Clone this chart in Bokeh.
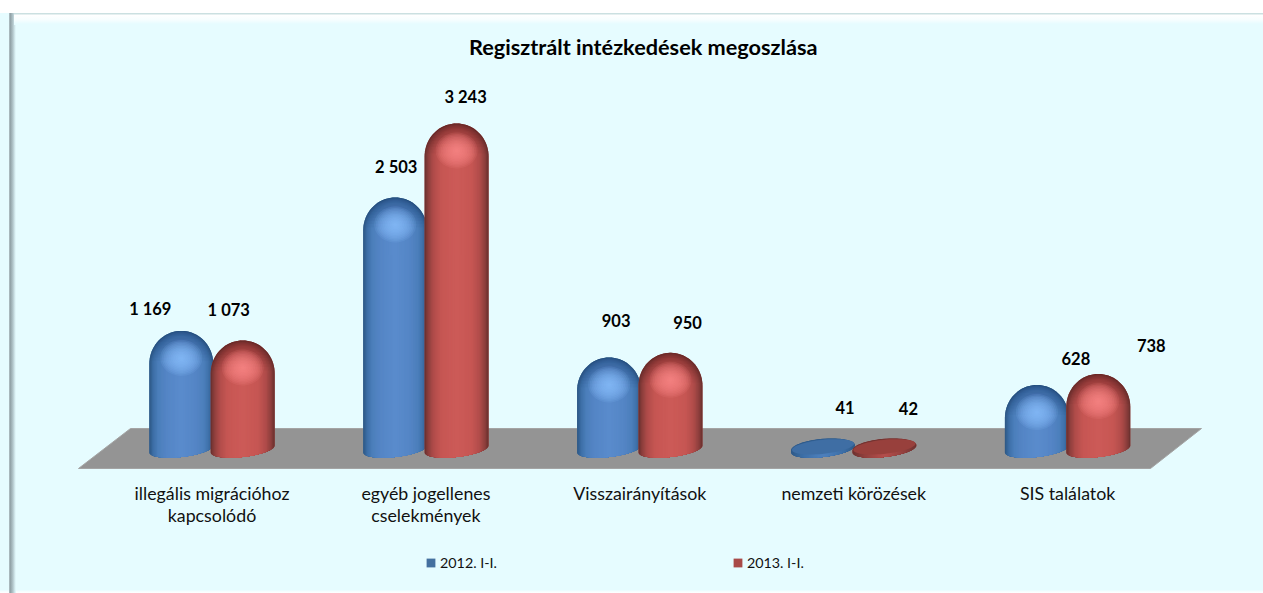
import numpy as np
from bokeh.embed import file_html
from bokeh.resources import INLINE
from bokeh.plotting import figure
from bokeh.models import Range1d, FixedTicker, Legend, LegendItem, ColumnDataSource
from bokeh.core.properties import value

title = "Regisztrált intézkedések megoszlása"
categories = ["illegális migrációhoz\nkapcsolódó", "egyéb jogellenes\ncselekmények",
              "Visszairányítások", "nemzeti körözések", "SIS találatok"]
series_names = ["2012. I-I.", "2013. I-I."]
values_2012 = [1169, 2503, 903, 41, 628]
values_2013 = [1073, 3243, 950, 42, 738]
label_2012 = ["1 169", "2 503", "903", "41", "628"]
label_2013 = ["1 073", "3 243", "950", "42", "738"]

# label nudges from the value position, in pixels
nudge_x_2012 = [-31, 1, 7, 22, 39]
nudge_y_2012 = [-22, -31, -37, -36, -27]
nudge_x_2013 = [-14, 9, 17, 24, 53]
nudge_y_2013 = [-31, -27, -30, -35, -29]

BG = "#e6fcff"
W, H = 1263, 593
F_TOP, F_BOTTOM = 70, 593       # frame in canvas pixels
AXIS_PX = 472                   # canvas y of the category axis
ZERO_PX = 447.3                 # canvas y of value 0
UNITS_PER_PX = 10.0
X0_PX, STEP_PX = 211.5, 213.9   # canvas x of first category, category step

px_x = 1.0 / STEP_PX
HW = 32 * px_x
OFFSET = 30.7 * px_x
DOME = 330.0
MIN_TOP = 90.0
BOTTOM_DEPTH = 80.0
BOTTOM_SHIFT = -12.0
TILT = 35.0


def hex2rgb(h):
    return np.array([int(h[i:i + 2], 16) for i in (1, 3, 5)], float)


def ramp(stops, t):
    xs = [s[0] for s in stops]
    cs = np.array([hex2rgb(s[1]) for s in stops])
    c = [np.interp(t, xs, cs[:, k]) for k in range(3)]
    return "#%02x%02x%02x" % tuple(int(round(v)) for v in c)


BLUE = [(0.0, "#5a8ccd"), (0.5, "#5485c5"), (0.74, "#4b7eba"), (0.9, "#3c6ea6"), (1.0, "#2f5a88")]
RED = [(0.0, "#cd5b58"), (0.5, "#c65653"), (0.74, "#b04c4a"), (0.9, "#8f3f3d"), (1.0, "#6e3230")]
BLUE_HI, RED_HI = "#8cc4ff", "#ff8a88"
BLUE_FACE, RED_FACE = "#3f6ea4", "#98403c"
BLUE_MID, RED_MID = "#44709f", "#a84a48"
BLUE_DARK, RED_DARK = "#264a78", "#6a2422"

bevel = ", ".join([
    "linear-gradient(to bottom, #cbe0e1 0, #cbe0e1 1px, #ffffff 2px, #f6feff 7px, %s 11px) 14px 13px / 100%% 12px no-repeat" % BG,
    "linear-gradient(to right, #c3d2d6 0, #8e9ea3 1px, #9aabb0 2px, #b4c8cd 4px, #d8eef2 6px, %s 7px) 9px 13px / 7px 580px no-repeat" % BG,
    "linear-gradient(to bottom, #ffffff 0, #ffffff 13px, %s 13px, %s 590px, #f2fdff 591px, #ffffff 593px) 0 0 / 100%% 100%% no-repeat" % (BG, BG),
])


def fx(px):
    return (px - X0_PX) / STEP_PX


def fy(py):
    return (ZERO_PX - py) * UNITS_PER_PX


p = figure(width=W, height=H, frame_width=W, frame_height=F_BOTTOM - F_TOP,
           output_backend="svg", toolbar_location=None,
           min_border_left=0, min_border_right=0, min_border_top=F_TOP,
           min_border_bottom=0,
           x_range=Range1d(fx(0), fx(W)),
           y_range=Range1d(fy(F_BOTTOM), fy(F_TOP)),
           background_fill_alpha=0, border_fill_alpha=0, outline_line_color=None,
           styles={"background": bevel})
p.grid.visible = False
p.yaxis.visible = False

p.title.text = title
p.title.text_font = "Lato"
p.title.text_font_size = "21.7px"
p.title.text_font_style = "bold"
p.title.text_color = "#000000"
p.title.align = "left"
p.title.offset = 468.5
p.title.standoff = 22

ax = p.xaxis[0]
ax.fixed_location = fy(AXIS_PX)
ax.ticker = FixedTicker(ticks=list(range(len(categories))))
ax.major_label_overrides = {i: c for i, c in enumerate(categories)}
ax.major_label_text_font = "Lato"
ax.major_label_text_font_size = "17.8px"
ax.major_label_text_color = "#111111"
ax.major_label_text_line_height = 1.02
ax.major_label_standoff = 3
ax.axis_line_color = None
ax.major_tick_line_color = None
ax.minor_tick_line_color = None

# floor
p.patch([fx(78), fx(1150), fx(1201), fx(130)], [fy(468), fy(468), fy(428), fy(428)],
        fill_color="#949494", line_color="#a4a4a4", line_width=1)


def outline(cx, v, a):
    top = max(v, MIN_TOP)
    h = min(DOME, top)
    ratio = h / DOME
    u = np.cos(np.linspace(np.pi, 0, 41))
    s = np.sqrt(1 - u ** 2)
    x = cx + a * HW * u
    inset = (1 - a) * 200 * ratio
    upper = (top - h) + (h - inset) * s + TILT * (1 - ratio) * a * u
    # lower edge follows the real outline at that x position
    ua = a * u
    sa = np.sqrt(1 - ua ** 2)
    lower = BOTTOM_SHIFT - BOTTOM_DEPTH * sa + TILT * ua
    return list(x) + list(x[::-1]), list(upper) + list(lower[::-1])


def dome_cap(cx, v, cut):
    """The part of the dome above a level, as a fraction of the dome height."""
    base = v - DOME
    umax = np.sqrt(1 - cut ** 2)
    u = np.linspace(-umax, umax, 31)
    return list(cx + HW * u), list(base + DOME * np.sqrt(1 - u ** 2))


renderers = []
for name, vals, stops, hi, face, mid, dark, sgn in [
    (series_names[0], values_2012, BLUE, BLUE_HI, BLUE_FACE, BLUE_MID, BLUE_DARK, -1),
    (series_names[1], values_2013, RED, RED_HI, RED_FACE, RED_MID, RED_DARK, 1),
]:
    xs, ys = [], []
    cols, alphas = [], []
    bx, by = [], []
    for i, v in enumerate(vals):
        cx = i + sgn * OFFSET
        ox, oy = outline(cx, v, 1.0)
        bx.append(ox)
        by.append(oy)
        for a in np.linspace(1.0, 0.08, 24):
            ox, oy = outline(cx, v, a)
            a_col = 0.7 + 0.3 * a if v < MIN_TOP else a
            xs.append(ox)
            ys.append(oy)
            cols.append(ramp(stops, a_col))
            alphas.append(1.0)
        if v < MIN_TOP:
            # flat upper face of a very short bar
            th = np.linspace(0, 2 * np.pi, 60)
            xs.append(list(cx + 0.97 * HW * np.cos(th)))
            ys.append(list(10 + 70 * np.sin(th) + TILT * np.cos(th) * 0.9))
            cols.append(face)
            alphas.append(1.0)
        else:
            # the dome darkens towards its crown
            for frac in np.linspace(0.1, 0.85, 9):
                ox, oy = dome_cap(cx, v, frac)
                xs.append(ox)
                ys.append(oy)
                cols.append(dark)
                alphas.append(0.055)
            # highlight at the foot of the dome
            cy = v - 270
            for s in np.linspace(1.0, 0.1, 12):
                th = np.linspace(0, 2 * np.pi, 48)
                xs.append(list(cx + s * 21 * px_x * np.cos(th)))
                ys.append(list(cy + s * 180 * np.sin(th)))
                cols.append(hi)
                alphas.append(0.13)
    base = p.patches(bx, by, fill_color=mid, line_color=None)
    renderers.append((name, base))
    src = ColumnDataSource(dict(xs=xs, ys=ys, c=cols, al=alphas))
    p.patches("xs", "ys", source=src, fill_color="c", fill_alpha="al", line_color=None)

for vals, labs, sgn, nx, ny in [(values_2012, label_2012, -1, nudge_x_2012, nudge_y_2012),
                                (values_2013, label_2013, 1, nudge_x_2013, nudge_y_2013)]:
    src = ColumnDataSource(dict(x=[i + sgn * OFFSET for i in range(len(vals))], y=vals,
                                t=labs, dx=nx, dy=ny))
    p.text("x", "y", text="t", source=src, x_offset="dx", y_offset="dy",
           text_font=value("Lato"), text_font_style="bold", text_font_size="16.5px",
           text_color="#000000", text_align="center", text_baseline="middle")

legend = Legend(items=[LegendItem(label=value(n), renderers=[r]) for n, r in renderers],
                location=(425, 22), orientation="horizontal", spacing=235,
                glyph_width=11, glyph_height=11, label_standoff=4, padding=0, margin=0,
                background_fill_alpha=0, border_line_alpha=0,
                label_text_font="Lato", label_text_font_size="14.3px", label_text_color="#111111")
p.add_layout(legend, "center")

open("out.html", "w").write(file_html(p, INLINE))
